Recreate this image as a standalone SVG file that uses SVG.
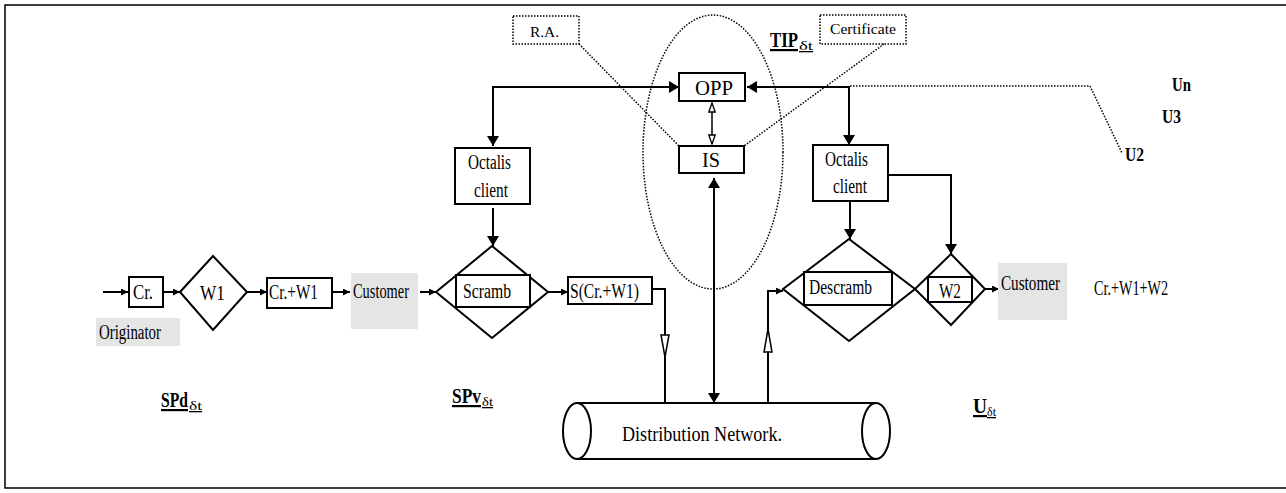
<svg xmlns="http://www.w3.org/2000/svg" width="1286" height="493" viewBox="0 0 1286 493">
<style>
.t{font-family:"Liberation Serif","Times New Roman",serif;font-size:20px;fill:#000}
.s{font-size:15px}
.b{font-weight:bold;font-size:22px;text-decoration:underline}
.u{font-weight:bold;font-size:18px}
.sub{font-size:13px;text-decoration:underline}
.box{fill:#fff;stroke:#000;stroke-width:2}
.gray{fill:#e5e5e5;stroke:none}
.dot{fill:none;stroke:#000;stroke-width:1.5;stroke-dasharray:1.5 1.5}
.ln{fill:none;stroke:#000;stroke-width:2}
.hol{fill:#fff;stroke:#000;stroke-width:1.5}
</style>
<defs>
<marker id="big" viewBox="0 0 10 12" refX="10" refY="6" markerWidth="10" markerHeight="12" markerUnits="userSpaceOnUse" orient="auto-start-reverse"><path d="M0,0L10,6L0,12z" fill="#000"/></marker>
<marker id="sm" viewBox="0 0 7 7" refX="7" refY="3.5" markerWidth="7" markerHeight="7" markerUnits="userSpaceOnUse" orient="auto"><path d="M0,0L7,3.5L0,7z" fill="#000"/></marker>
<marker id="hs" viewBox="0 0 11 8" refX="10" refY="4" markerWidth="11" markerHeight="8" markerUnits="userSpaceOnUse" orient="auto-start-reverse"><path d="M1,0.8L10,4L1,7.2z" fill="#fff" stroke="#000" stroke-width="1.3"/></marker>
</defs>
<path d="M1290,5H5V488H1290" fill="none" stroke="#000" stroke-width="1.5"/>

<g id="connectors">
<path class="ln" d="M103,292H128" marker-end="url(#sm)"/>
<path class="ln" d="M163,292H180" marker-end="url(#sm)"/>
<path class="ln" d="M247,292H267" marker-end="url(#sm)"/>
<path class="ln" d="M332,292H350" marker-end="url(#sm)"/>
<path class="ln" d="M420,292H436" marker-end="url(#sm)"/>
<path class="ln" d="M548,292H568" marker-end="url(#sm)"/>
<path class="ln" d="M652,289H665V403"/>
<polygon class="hol" points="661,335 669,335 665,357"/>
<path class="ln" d="M768,403V291H783" marker-end="url(#sm)"/>
<polygon class="hol" points="764,352 772,352 768,329"/>
<path class="ln" d="M714,403V178" marker-start="url(#big)" marker-end="url(#big)"/>
<path class="ln" d="M679,87H493V146" marker-start="url(#big)" marker-end="url(#big)"/>
<path class="ln" d="M747,87H849V145" marker-start="url(#big)" marker-end="url(#big)"/>
<path class="dot" d="M850,86H1090L1122,153"/>
<path class="ln" d="M493,208V246" marker-end="url(#big)"/>
<path class="ln" d="M850,201V239" marker-end="url(#big)"/>
<path class="ln" d="M888,175H951V254" marker-end="url(#big)"/>
<path class="ln" style="stroke-width:1.5" d="M712,103V144" marker-start="url(#hs)" marker-end="url(#hs)"/>
<path class="ln" d="M985,289H999" marker-end="url(#sm)"/>
<path class="dot" d="M579,44L679,146"/>
<path class="dot" d="M884,44L744,146"/>
</g>

<g id="tip">
<ellipse class="dot" cx="713" cy="152" rx="70" ry="137"/>
<text class="t b" x="770" y="47" textLength="28" lengthAdjust="spacingAndGlyphs">TIP</text>
<text class="t sub" x="799" y="50" textLength="14" lengthAdjust="spacingAndGlyphs">δt</text>
</g>

<g id="cr"><rect class="box" x="129" y="277" width="34" height="30"/><text class="t" x="133" y="299" textLength="20" lengthAdjust="spacingAndGlyphs">Cr.</text></g>
<g id="w1"><polygon class="box" points="180,292 213,256 247,292 213,330"/><text class="t" x="200" y="300" textLength="25" lengthAdjust="spacingAndGlyphs">W1</text></g>
<g id="crw1"><rect class="box" x="267" y="278" width="65" height="30"/><text class="t" x="269" y="299" textLength="49" lengthAdjust="spacingAndGlyphs">Cr.+W1</text></g>
<g id="customer1"><rect class="gray" x="351" y="273" width="67" height="56"/><text class="t" x="353" y="298" textLength="56" lengthAdjust="spacingAndGlyphs">Customer</text></g>
<g id="originator"><rect class="gray" x="96" y="318" width="84" height="28"/><text class="t" x="99" y="339" textLength="62" lengthAdjust="spacingAndGlyphs">Originator</text></g>
<g id="octalis1"><rect class="box" x="455" y="148" width="75" height="56"/><text class="t" x="468" y="169" textLength="43" lengthAdjust="spacingAndGlyphs">Octalis</text><text class="t" x="474" y="197" textLength="34" lengthAdjust="spacingAndGlyphs">client</text></g>
<g id="scramb"><polygon class="box" points="436,292 492,246 548,292 492,338"/><rect class="box" x="456" y="275" width="74" height="32"/><text class="t" x="463" y="298" textLength="48" lengthAdjust="spacingAndGlyphs">Scramb</text></g>
<g id="scrw1"><rect class="box" x="568" y="277" width="84" height="27"/><text class="t" x="570" y="298" textLength="69" lengthAdjust="spacingAndGlyphs">S(Cr.+W1)</text></g>
<g id="ra"><rect class="dot" x="513" y="16" width="66" height="28"/><text class="t s" x="530" y="37" textLength="29" lengthAdjust="spacingAndGlyphs">R.A.</text></g>
<g id="certificate"><rect class="dot" x="820" y="15" width="86" height="29"/><text class="t s" x="830" y="34" textLength="66" lengthAdjust="spacingAndGlyphs">Certificate</text></g>
<g id="opp"><rect class="box" x="679" y="73" width="66" height="28"/><text class="t" x="695" y="95" textLength="38" lengthAdjust="spacingAndGlyphs">OPP</text></g>
<g id="is"><rect class="box" x="679" y="146" width="65" height="27"/><text class="t" x="702" y="167" textLength="18" lengthAdjust="spacingAndGlyphs">IS</text></g>
<g id="octalis2"><rect class="box" x="813" y="145" width="75" height="56"/><text class="t" x="825" y="166" textLength="43" lengthAdjust="spacingAndGlyphs">Octalis</text><text class="t" x="833" y="193" textLength="34" lengthAdjust="spacingAndGlyphs">client</text></g>
<g id="descramb"><polygon class="box" points="783,289 849,239 915,289 849,341"/><rect class="box" x="804" y="272" width="88" height="33"/><text class="t" x="809" y="294" textLength="63" lengthAdjust="spacingAndGlyphs">Descramb</text></g>
<g id="w2"><polygon class="box" points="915,289 951,254 985,289 951,325"/><rect class="box" x="928" y="277" width="44" height="25"/><text class="t" x="939" y="298" textLength="22" lengthAdjust="spacingAndGlyphs">W2</text></g>
<g id="customer2"><rect class="gray" x="998" y="263" width="69" height="57"/><text class="t" x="1001" y="290" textLength="59" lengthAdjust="spacingAndGlyphs">Customer</text></g>
<g id="result"><text class="t" x="1094" y="295" textLength="74" lengthAdjust="spacingAndGlyphs">Cr.+W1+W2</text></g>
<g id="users">
<text class="t u" x="1172" y="91" textLength="19" lengthAdjust="spacingAndGlyphs">Un</text>
<text class="t u" x="1162" y="123" textLength="19" lengthAdjust="spacingAndGlyphs">U3</text>
<text class="t u" x="1125" y="161" textLength="19" lengthAdjust="spacingAndGlyphs">U2</text>
</g>
<g id="network">
<path class="ln" d="M577,403H876M577,459H876"/>
<ellipse class="ln" cx="577" cy="431" rx="14" ry="28"/>
<ellipse class="ln" cx="876" cy="431" rx="14" ry="28"/>
<text class="t" x="622" y="441" style="font-size:22px" textLength="160" lengthAdjust="spacingAndGlyphs">Distribution Network.</text>
</g>
<g id="labels">
<text class="t b" x="161" y="407" textLength="27" lengthAdjust="spacingAndGlyphs">SPd</text>
<text class="t sub" x="189" y="410" textLength="13" lengthAdjust="spacingAndGlyphs">δt</text>
<text class="t b" x="452" y="403" textLength="29" lengthAdjust="spacingAndGlyphs">SPv</text>
<text class="t sub" x="482" y="406" textLength="11" lengthAdjust="spacingAndGlyphs">δt</text>
<text class="t b" x="973" y="413" textLength="14" lengthAdjust="spacingAndGlyphs">U</text>
<text class="t sub" x="987" y="416" textLength="9" lengthAdjust="spacingAndGlyphs">δt</text>
</g>
</svg>
